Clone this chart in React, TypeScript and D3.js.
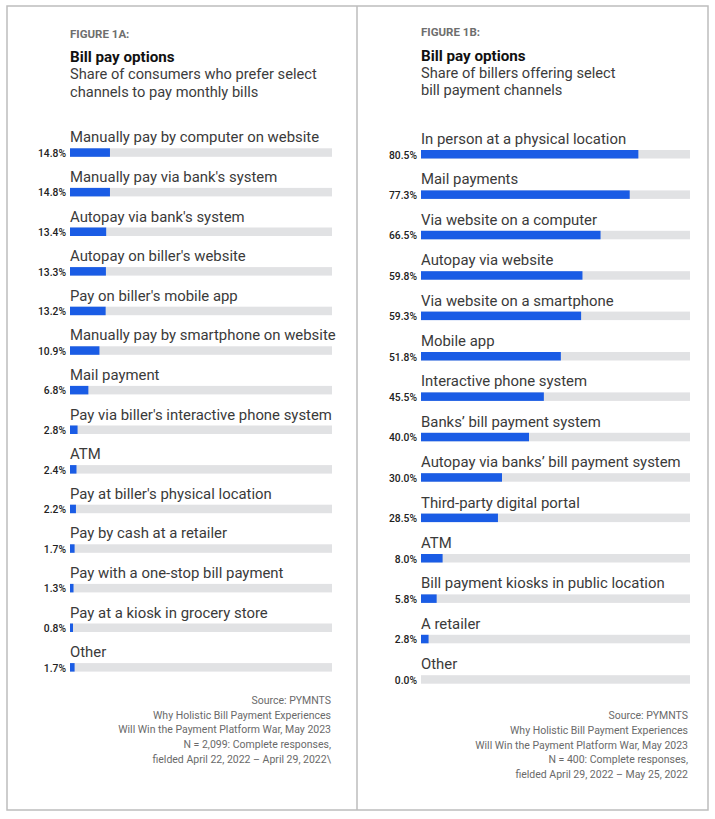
import React from "react";
import * as d3 from "d3";

// Figure 1A: consumers
const consumerChannels = [
  "Manually pay by computer on website",
  "Manually pay via bank's system",
  "Autopay via bank's system",
  "Autopay on biller's website",
  "Pay on biller's mobile app",
  "Manually pay by smartphone on website",
  "Mail payment",
  "Pay via biller's interactive phone system",
  "ATM",
  "Pay at biller's physical location",
  "Pay by cash at a retailer",
  "Pay with a one-stop bill payment",
  "Pay at a kiosk in grocery store",
  "Other",
];
const consumerShares = [14.8, 14.8, 13.4, 13.3, 13.2, 10.9, 6.8, 2.8, 2.4, 2.2, 1.7, 1.3, 0.8, 1.7];
const consumerNotes = [
  "Source: PYMNTS",
  "Why Holistic Bill Payment Experiences",
  "Will Win the Payment Platform War, May 2023",
  "N = 2,099: Complete responses,",
  "fielded April 22, 2022 \u2013 April 29, 2022\\",
];

// Figure 1B: billers
const billerChannels = [
  "In person at a physical location",
  "Mail payments",
  "Via website on a computer",
  "Autopay via website",
  "Via website on a smartphone",
  "Mobile app",
  "Interactive phone system",
  "Banks\u2019 bill payment system",
  "Autopay via banks\u2019 bill payment system",
  "Third-party digital portal",
  "ATM",
  "Bill payment kiosks in public location",
  "A retailer",
  "Other",
];
const billerShares = [80.5, 77.3, 66.5, 59.8, 59.3, 51.8, 45.5, 40.0, 30.0, 28.5, 8.0, 5.8, 2.8, 0.0];
const billerNotes = [
  "Source: PYMNTS",
  "Why Holistic Bill Payment Experiences",
  "Will Win the Payment Platform War, May 2023",
  "N = 400: Complete responses,",
  "fielded April 29, 2022 \u2013 May 25, 2022",
];

const FONT = "Roboto, 'Noto Sans', sans-serif";
const BLUE = "#1a5ce5";
const TRACK = "#e1e2e4";

type PanelProps = {
  x0: number;
  headY: number;
  figure: string;
  subtitle: string[];
  labels: string[];
  values: number[];
  firstTop: number;
  pitch: number;
  trackW: number;
  notes: string[];
  noteRight: number;
  noteY: number;
  notePitch: number;
};

const Panel = (p: PanelProps) => {
  const x = d3.scaleLinear().domain([0, 100]).range([0, 270]);
  const y = d3
    .scalePoint<string>()
    .domain(p.labels)
    .range([p.firstTop, p.firstTop + (p.labels.length - 1) * p.pitch]);
  const barH = 8.5;

  return (
    <g>
      <text x={p.x0} y={p.headY} fontFamily={FONT} fontSize={11.5} fontWeight={700} fill="#6e6e6e">
        {p.figure}
      </text>
      <text x={p.x0} y={p.headY + 24.5} fontFamily={FONT} fontSize={15.2} fontWeight={700} fill="#111">
        Bill pay options
      </text>
      {p.subtitle.map((s, i) => (
        <text key={s} x={p.x0} y={p.headY + 41.5 + i * 17.5} fontFamily={FONT} fontSize={14.65} fill="#3c3c3c">
          {s}
        </text>
      ))}

      {p.labels.map((lab, i) => {
        const top = y(lab) as number;
        const v = p.values[i];
        const w = v > 0 ? Math.max(x(v), 3) : 0;
        return (
          <g key={lab}>
            <text x={p.x0} y={top - 6} fontFamily={FONT} fontSize={14.9} fill="#3a3a3a">
              {lab}
            </text>
            <rect x={p.x0} y={top} width={p.trackW} height={barH} fill={TRACK} />
            <rect x={p.x0} y={top} width={w} height={barH} fill={BLUE} />
            <text
              x={p.x0 - 4}
              y={top + barH}
              textAnchor="end"
              fontFamily={FONT}
              fontSize={10.3}
              fontWeight={500}
              fill="#222"
            >
              {v.toFixed(1) + "%"}
            </text>
          </g>
        );
      })}

      {p.notes.map((n, i) => (
        <text
          key={n}
          x={p.noteRight}
          y={p.noteY + i * p.notePitch}
          textAnchor="end"
          fontFamily={FONT}
          fontSize={10.5}
          fill="#6a6a6a"
        >
          {n}
        </text>
      ))}
    </g>
  );
};

const App = () => {
  return (
    <svg
      width={715}
      height={819}
      viewBox="0 0 715 819"
      style={{ position: "absolute", left: 0, top: 0, background: "#fff" }}
    >
      <rect x={7} y={6} width={701} height={804} fill="#fff" stroke="#bdbdbd" strokeWidth={1.5} />
      <line x1={357} y1={6} x2={357} y2={810} stroke="#bdbdbd" strokeWidth={1.5} />

      <Panel
        x0={70}
        headY={37.5}
        figure="FIGURE 1A:"
        subtitle={["Share of consumers who prefer select", "channels to pay monthly bills"]}
        labels={consumerChannels}
        values={consumerShares}
        firstTop={148.3}
        pitch={39.6}
        trackW={262}
        notes={consumerNotes}
        noteRight={331}
        noteY={704}
        notePitch={14.7}
      />
      <Panel
        x0={421}
        headY={36}
        figure="FIGURE 1B:"
        subtitle={["Share of billers offering select", "bill payment channels"]}
        labels={billerChannels}
        values={billerShares}
        firstTop={150}
        pitch={40.4}
        trackW={269}
        notes={billerNotes}
        noteRight={688}
        noteY={719}
        notePitch={14.8}
      />
    </svg>
  );
};

export default App;
